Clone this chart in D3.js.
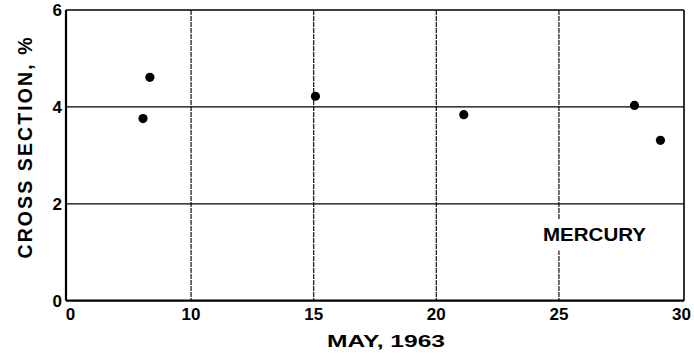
<!DOCTYPE html>
<html><head><meta charset="utf-8">
<script src="https://cdn.jsdelivr.net/npm/d3@7/dist/d3.min.js"></script>
<style>
body{margin:0;background:#fff;}
text{font-family:"Liberation Sans",Arial,sans-serif;fill:#000;}
</style></head>
<body><svg id="c" width="694" height="358"></svg>
<script>
// data
const days = [8.04, 8.32, 15.07, 21.12, 28.08, 29.14];
const crossSection = [3.76, 4.61, 4.22, 3.84, 4.03, 3.31];
const xTickValues = [5, 10, 15, 20, 25, 30];
const xTickLabels = ["0", "10", "15", "20", "25", "30"];
const yTickValues = [0, 2, 4, 6];
const xGrid = [10, 15, 20, 25];
const yGrid = [2, 4];
const xTitle = "MAY, 1963";
const yTitle = "CROSS SECTION, %";
const seriesLabel = "MERCURY";

const svg = d3.select("#c");
const L = 66, R = 684, T = 10, B = 300.7;
const x = d3.scaleLinear().domain([4.9, 30.1]).range([L, R]);
const y = d3.scaleLinear().domain([0, 6]).range([B, T]);

// grid
svg.append("g").selectAll("line").data(xGrid).join("line")
  .attr("x1", d => x(d)).attr("x2", d => x(d)).attr("y1", T).attr("y2", B)
  .attr("stroke", "#111").attr("stroke-width", 1.2).attr("stroke-dasharray", "5,1");
svg.append("g").selectAll("line").data(yGrid).join("line")
  .attr("x1", L).attr("x2", R).attr("y1", d => y(d)).attr("y2", d => y(d))
  .attr("stroke", "#000").attr("stroke-width", 1.3);

// frame
svg.append("line").attr("x1", L).attr("x2", R).attr("y1", T).attr("y2", T).attr("stroke", "#000").attr("stroke-width", 1.6);
svg.append("line").attr("x1", R).attr("x2", R).attr("y1", T).attr("y2", B).attr("stroke", "#000").attr("stroke-width", 1.6);
svg.append("line").attr("x1", L).attr("x2", L).attr("y1", T).attr("y2", B).attr("stroke", "#000").attr("stroke-width", 2.2);
svg.append("line").attr("x1", L).attr("x2", R).attr("y1", B).attr("y2", B).attr("stroke", "#000").attr("stroke-width", 2.2);

// series label with white knock-out behind
const lab = svg.append("g");
const bg = lab.append("rect").attr("fill", "#fff");
const lt = lab.append("text").attr("x", (x(24.35) + x(28.55)) / 2).attr("y", y(1.24))
  .attr("text-anchor", "middle").attr("font-size", 19).attr("font-weight", "bold").attr("textLength", 103)
  .attr("lengthAdjust", "spacingAndGlyphs").text(seriesLabel);
const bb = lt.node().getBBox();
bg.attr("x", bb.x).attr("y", bb.y - 4).attr("width", bb.width).attr("height", bb.height + 10);

// points
svg.append("g").selectAll("circle").data(days).join("circle")
  .attr("cx", d => x(d)).attr("cy", (d, i) => y(crossSection[i])).attr("r", 4.6).attr("fill", "#000");

// y ticks
svg.append("g").selectAll("text").data(yTickValues).join("text")
  .attr("x", L - 4).attr("y", d => y(d)).attr("dy", "0.36em")
  .attr("text-anchor", "end").attr("font-size", 17).attr("font-weight", "bold")
  .text(d => d);

// x ticks
svg.append("g").selectAll("text").data(xTickValues).join("text")
  .attr("x", (d, i) => x(d) + (i === 0 ? 2 : 0)).attr("y", B + 19)
  .attr("text-anchor", "middle").attr("font-size", 17).attr("font-weight", "bold")
  .text((d, i) => xTickLabels[i]);

// titles
svg.append("text").attr("x", 386).attr("y", 347).attr("text-anchor", "middle")
  .attr("font-size", 17).attr("font-weight", "bold").attr("textLength", 118).attr("lengthAdjust", "spacingAndGlyphs")
  .text(xTitle);
svg.append("text").attr("transform", "translate(32,148) rotate(-90)").attr("text-anchor", "middle")
  .attr("font-size", 19.5).attr("font-weight", "bold").attr("textLength", 221).attr("lengthAdjust", "spacing")
  .text(yTitle);
</script></body></html>
